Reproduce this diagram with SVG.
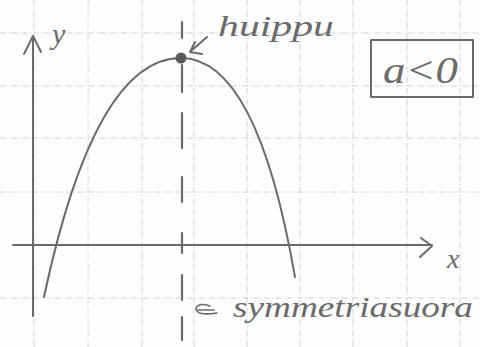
<svg xmlns="http://www.w3.org/2000/svg" width="480" height="347" viewBox="0 0 480 347">
<defs>
<style>
.grid{stroke:#d4d4d4;stroke-width:1;stroke-dasharray:6 2 1 2;fill:none}
.pen{stroke:#6a6a6a;stroke-width:2;fill:none;stroke-linecap:round;stroke-linejoin:round}
.hand{font-family:"Liberation Serif",serif;font-style:italic;fill:#6a6a6a}
</style>
</defs>
<rect width="480" height="347" fill="#fdfdfd"/>
<g id="grid">
<path class="grid" d="M34,0V347M88,0V347M142,0V347M194,0V347M247,0V347M300,0V347M353,0V347M407,0V347M460,0V347"/>
<path class="grid" d="M0,33H480M0,86H480M0,138H480M0,192H480M0,298H480"/>
</g>
<g id="connectors">
<g id="y-axis"><path class="pen" d="M33,316V37"/><path class="pen" d="M24,54L33,36L41,52"/></g>
<g id="x-axis"><path class="pen" d="M13,245H432"/><path class="pen" d="M421,238L432,246L420,257"/></g>
<g id="axis-of-symmetry" class="pen" style="stroke-width:2.2">
<path d="M182,22V38M182,65V92M182,113V148M182,177V202M182,233V253M182,275V300M182,317V340"/>
</g>
<path id="huippu-arrow" class="pen" d="M207,37L191,51M195,42L190,52L202,54"/>
<path id="sym-arrow" class="pen" style="stroke-width:1.6" d="M210,306Q197,302 196,309Q197,316 217,313M198,310H214"/>
</g>
<g id="parabola"><path class="pen" d="M44,297Q95,58 181,58Q257,58 295,277"/></g>
<g id="vertex"><circle cx="181" cy="58" r="5.5" fill="#5a5a5a"/></g>
<g id="label-y"><text class="hand" x="52" y="44" font-size="30">y</text></g>
<g id="label-x"><text class="hand" x="447" y="268" font-size="28">x</text></g>
<g id="label-huippu"><text class="hand" x="218" y="36" font-size="30" textLength="116" lengthAdjust="spacingAndGlyphs">huippu</text></g>
<g id="condition">
<rect x="371" y="40" width="102" height="57" class="pen"/>
<text class="hand" x="383" y="83" font-size="38" textLength="75" lengthAdjust="spacingAndGlyphs">a&lt;0</text>
</g>
<g id="label-symmetriasuora"><text class="hand" x="233" y="317" font-size="30" textLength="240" lengthAdjust="spacingAndGlyphs">symmetriasuora</text></g>
</svg>
